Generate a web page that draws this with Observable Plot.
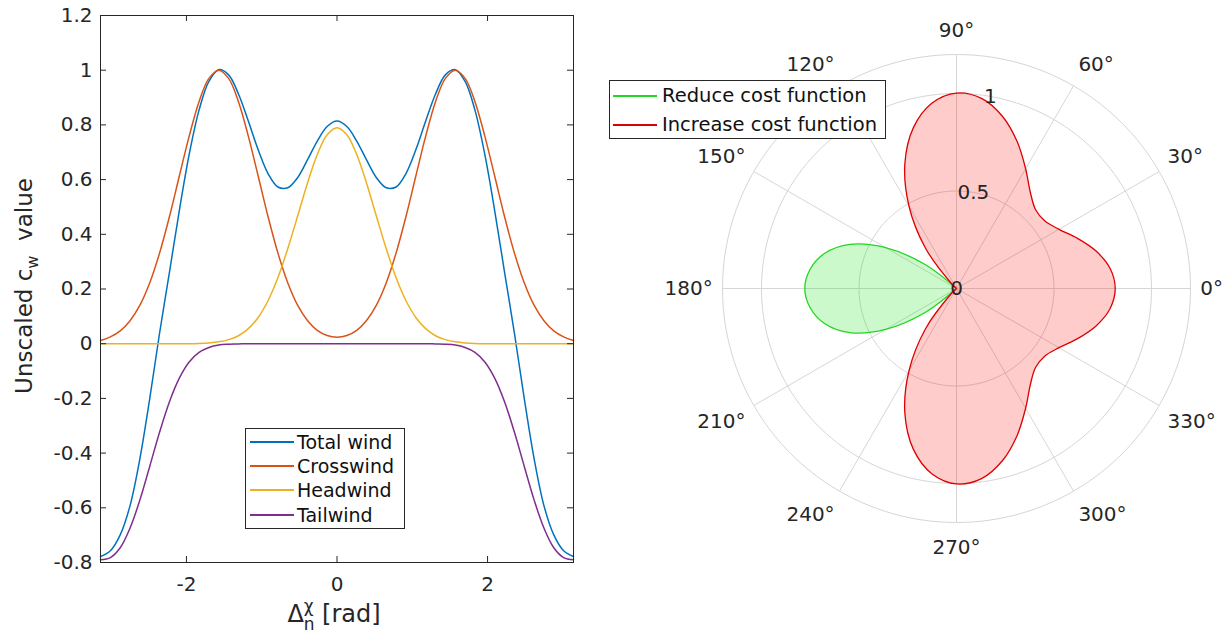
<!DOCTYPE html>
<html><head><meta charset="utf-8">
<script src="https://cdn.jsdelivr.net/npm/d3@7"></script>
<script src="https://cdn.jsdelivr.net/npm/@observablehq/plot@0.6"></script>
<style>
body{margin:0;background:#fff;font-family:"DejaVu Sans",sans-serif;}
#wrap{position:relative;width:1232px;height:639px;overflow:hidden;background:#fff;}
.panel{position:absolute;top:0;}
.legend{position:absolute;background:#fff;border:1px solid #262626;box-sizing:border-box;color:#111;font-family:"DejaVu Sans",sans-serif;}
.legend .row{position:absolute;white-space:nowrap;height:24px;line-height:24px;}
.legend .sw{position:absolute;height:2px;}
</style></head><body><div id="wrap"></div>
<script>
// ---------- data ----------
const delta = [-3.1416,-3.0107,-2.8798,-2.7489,-2.6180,-2.4871,-2.3562,-2.2253,-2.0944,-1.9635,-1.8326,-1.7017,-1.5708,-1.4399,-1.3090,-1.1781,-1.0472,-0.9163,-0.7854,-0.6545,-0.5236,-0.3927,-0.2618,-0.1309,0,0.1309,0.2618,0.3927,0.5236,0.6545,0.7854,0.9163,1.0472,1.1781,1.3090,1.4399,1.5708,1.7017,1.8326,1.9635,2.0944,2.2253,2.3562,2.4871,2.6180,2.7489,2.8798,3.0107,3.1416];
const totalWind = [-0.778,-0.757,-0.699,-0.592,-0.420,-0.200,0.040,0.262,0.487,0.692,0.854,0.959,1.002,0.983,0.913,0.814,0.709,0.622,0.573,0.570,0.607,0.672,0.741,0.794,0.814,0.794,0.741,0.672,0.607,0.570,0.573,0.622,0.709,0.814,0.913,0.983,1.002,0.959,0.854,0.692,0.487,0.262,0.040,-0.200,-0.420,-0.592,-0.699,-0.757,-0.778];
const crosswind = [0.012,0.025,0.047,0.084,0.141,0.223,0.332,0.465,0.613,0.759,0.885,0.970,1.000,0.970,0.885,0.759,0.613,0.465,0.332,0.223,0.141,0.085,0.049,0.030,0.024,0.030,0.049,0.085,0.141,0.223,0.332,0.465,0.613,0.759,0.885,0.970,1.000,0.970,0.885,0.759,0.613,0.465,0.332,0.223,0.141,0.084,0.047,0.025,0.012];
const headwind = [0,0,0,0,0,0,0,0,0,0,0.001,0.003,0.007,0.015,0.029,0.055,0.096,0.157,0.241,0.347,0.466,0.587,0.692,0.764,0.790,0.764,0.692,0.587,0.466,0.347,0.241,0.157,0.096,0.055,0.029,0.015,0.007,0.003,0.001,0,0,0,0,0,0,0,0,0,0];
const tailwind = [-0.790,-0.782,-0.746,-0.674,-0.571,-0.448,-0.323,-0.212,-0.126,-0.067,-0.032,-0.014,-0.005,-0.002,-0.001,0,0,0,0,0,0,0,0,0,0,0,0,0,0,0,0,0,0,0,-0.001,-0.002,-0.005,-0.014,-0.032,-0.067,-0.126,-0.212,-0.323,-0.448,-0.571,-0.674,-0.746,-0.782,-0.790];
const seriesNames = ["Total wind","Crosswind","Headwind","Tailwind"];
const seriesColors = ["#0072BD","#D95319","#EDB120","#7E2F8E"];
const xTicks = [-2, 0, 2];
const xTickLabels = ["-2", "0", "2"];
const yTicks = [-0.8,-0.6,-0.4,-0.2,0,0.2,0.4,0.6,0.8,1,1.2];
const yTickLabels = ["-0.8","-0.6","-0.4","-0.2","0","0.2","0.4","0.6","0.8","1","1.2"];
const polarNames = ["Reduce cost function","Increase cost function"];
const polarStroke = ["#22d622","#dd0000"];
const polarFill = ["#00e000","#ff0000"];
const thetaTicks = [0,30,60,90,120,150,180,210,240,270,300,330];
const thetaLabels = ["0°","30°","60°","90°","120°","150°","180°","210°","240°","270°","300°","330°"];
const rTicks = [0, 0.5, 1];
const rTickLabels = ["0","0.5","1"];
const rMax = 1.2;

const wrap = document.getElementById("wrap");
const ink = "#262626";

// ---------- left: line chart ----------
const W1 = 600, H = 639, mL = 100, mR = 27, mT = 15, mB = 77;
const iw = W1 - mL - mR, ih = H - mT - mB;
const series = [totalWind, crosswind, headwind, tailwind];
const left = Plot.plot({
  width: W1, height: H, marginLeft: mL, marginRight: mR, marginTop: mT, marginBottom: mB,
  style: {fontFamily: "DejaVu Sans", fontSize: "20px", color: ink, background: "transparent", overflow: "visible"},
  x: {domain: [delta[0], delta[delta.length - 1]], label: null},
  y: {domain: [yTicks[0], yTicks[yTicks.length - 1]], label: null},
  marks: [
    ...series.map((s, j) => Plot.line(delta, {x: d => d, y: (d, i) => s[i], stroke: seriesColors[j], strokeWidth: 1.5, curve: "catmull-rom"})),
    Plot.frame({stroke: ink, strokeWidth: 1}),
    Plot.ruleY(yTicks, {y: d => d, stroke: ink, insetRight: iw - 6}),
    Plot.ruleY(yTicks, {y: d => d, stroke: ink, insetLeft: iw - 6}),
    Plot.ruleX(xTicks, {x: d => d, stroke: ink, insetTop: ih - 6}),
    Plot.ruleX(xTicks, {x: d => d, stroke: ink, insetBottom: ih - 6}),
    Plot.axisX(xTicks, {tickSize: 0, tickPadding: 14, label: null, fontSize: 20, fill: ink, tickFormat: d => xTickLabels[xTicks.indexOf(d)]}),
    Plot.axisY(yTicks, {tickSize: 0, tickPadding: 8, label: null, fontSize: 20, fill: ink, tickFormat: d => yTickLabels[yTicks.indexOf(d)]})
  ]
});
left.classList.add("panel");
left.style.left = "0px";
wrap.appendChild(left);

// axis titles with sub/superscripts
const ls = d3.select(left);
const yl = ls.append("text").attr("transform", "translate(32,286) rotate(-90)")
  .attr("text-anchor", "middle").attr("font-size", 23).attr("fill", ink).attr("font-family", "DejaVu Sans");
yl.append("tspan").text("Unscaled c");
yl.append("tspan").attr("font-size", 16).attr("dy", 6).text("w");
yl.append("tspan").attr("dy", -6).text("  value");
const xl = ls.append("text").attr("x", 334).attr("y", 622)
  .attr("text-anchor", "middle").attr("font-size", 24).attr("fill", ink).attr("font-family", "DejaVu Sans");
xl.append("tspan").text("Δ");
xl.append("tspan").attr("font-size", 17).attr("dy", -10).text("χ");
xl.append("tspan").attr("font-size", 17).attr("dx", -10).attr("dy", 18).text("n");
xl.append("tspan").attr("dy", -8).text(" [rad]");

// ---------- right: polar chart ----------
const W2 = 612, mL2 = 102, mR2 = 42, mT2 = 54, mB2 = 117;
const rad = Math.PI / 180;
const pts = delta.map((t, i) => ({t, v: totalWind[i]}));
const pos = pts.filter(d => d.v > 0);
const neg = pts.filter(d => d.v < 0);
const negOrdered = neg.filter(d => d.t > 0).concat(neg.filter(d => d.t < 0 && d.t > delta[0]));
const toXY = d => ({x: Math.abs(d.v) * Math.cos(d.t), y: Math.abs(d.v) * Math.sin(d.t)});
const origin = {x: 0, y: 0};
const incPath = [origin, ...pos.map(toXY), origin];
const redPath = [origin, ...negOrdered.map(toXY), origin];
const ringRadii = [0.5, 1, rMax];
const ringPts = ringRadii.flatMap(r => d3.range(0, 361, 2).map(a => ({r, x: r * Math.cos(a * rad), y: r * Math.sin(a * rad)})));
const grid = "#d6d6d6";

const labelMarks = thetaTicks.map((a, i) => {
  const c = Math.cos(a * rad), s = Math.sin(a * rad);
  const textAnchor = Math.abs(c) < 1e-6 ? "middle" : c > 0 ? "start" : "end";
  const lineAnchor = Math.abs(s) < 1e-6 ? "middle" : s > 0 ? "bottom" : "top";
  return Plot.text([a], {x: () => 1.25 * c, y: () => 1.29 * s, text: () => thetaLabels[i], textAnchor, lineAnchor, fontSize: 20, fill: ink});
});

const right = Plot.plot({
  width: W2, height: H, marginLeft: mL2, marginRight: mR2, marginTop: mT2, marginBottom: mB2,
  style: {fontFamily: "DejaVu Sans", fontSize: "20px", color: ink, background: "transparent", overflow: "visible"},
  x: {domain: [-rMax, rMax], axis: null},
  y: {domain: [-rMax, rMax], axis: null},
  marks: [
    Plot.line(ringPts, {x: "x", y: "y", z: "r", stroke: grid, strokeWidth: 1}),
    Plot.link(thetaTicks, {x1: () => 0, y1: () => 0, x2: a => rMax * Math.cos(a * rad), y2: a => rMax * Math.sin(a * rad), stroke: grid, strokeWidth: 1}),
    Plot.line(redPath, {x: "x", y: "y", curve: "catmull-rom", stroke: polarStroke[0], strokeWidth: 1.3, fill: polarFill[0], fillOpacity: 0.2}),
    Plot.line(incPath, {x: "x", y: "y", curve: "catmull-rom", stroke: polarStroke[1], strokeWidth: 1.3, fill: polarFill[1], fillOpacity: 0.2}),
    Plot.text(rTicks, {x: r => r * Math.cos(80 * rad), y: r => r * Math.sin(80 * rad), text: (r, i) => rTickLabels[i], fontSize: 20, fill: ink}),
    ...labelMarks
  ]
});
right.classList.add("panel");
right.style.left = "620px";
wrap.appendChild(right);

// ---------- legends ----------
function legend(names, colors, box, rowCenters, fontSize, swX0, swX1, textX) {
  const div = document.createElement("div");
  div.className = "legend";
  Object.assign(div.style, {left: box[0] + "px", top: box[1] + "px", width: box[2] + "px", height: box[3] + "px", fontSize: fontSize + "px"});
  names.forEach((n, i) => {
    const sw = document.createElement("div");
    sw.className = "sw";
    Object.assign(sw.style, {left: swX0 + "px", width: (swX1 - swX0) + "px", top: (rowCenters[i] - 1) + "px", background: colors[i]});
    div.appendChild(sw);
    const row = document.createElement("div");
    row.className = "row";
    Object.assign(row.style, {left: textX + "px", top: (rowCenters[i] - 12) + "px"});
    row.textContent = n;
    div.appendChild(row);
  });
  wrap.appendChild(div);
}
legend(seriesNames, seriesColors, [245, 428, 160, 101], [13, 37, 61, 86], 19, 4, 48, 51);
legend(polarNames, polarStroke, [609, 80, 277, 59], [15, 44], 19.5, 3, 47, 52);
</script></body></html>
